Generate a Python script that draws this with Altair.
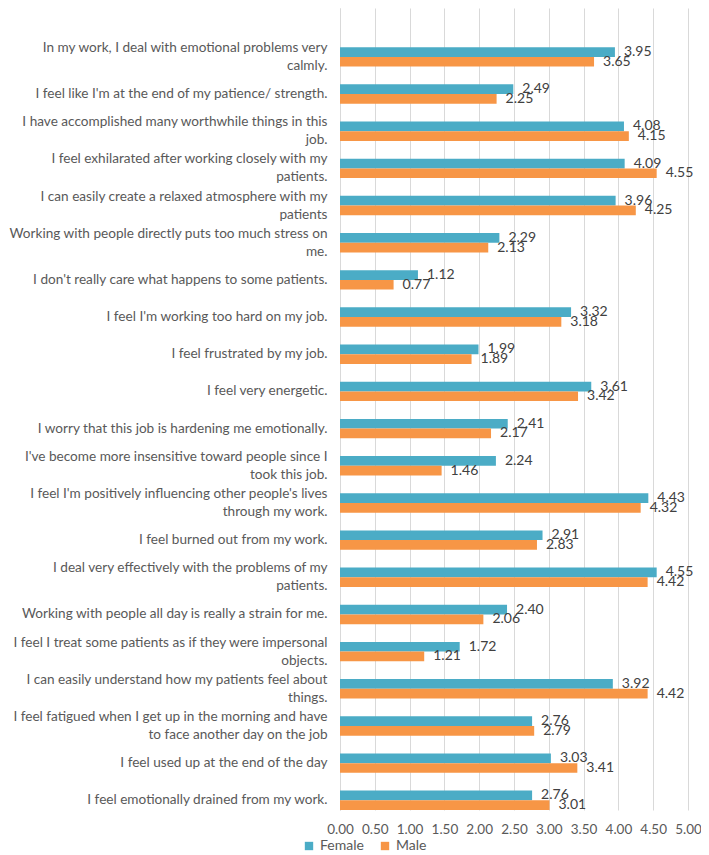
import altair as alt
import pandas as pd

categories = [
    "In my work, I deal with emotional problems very\ncalmly.",
    "I feel like I'm at the end of my patience/ strength.",
    "I have accomplished many worthwhile things in this\njob.",
    "I feel exhilarated after working closely with my\npatients.",
    "I can easily create a relaxed atmosphere with my\npatients",
    "Working with people directly puts too much stress on\nme.",
    "I don't really care what happens to some patients.",
    "I feel I'm working too hard on my job.",
    "I feel frustrated by my job.",
    "I feel very energetic.",
    "I worry that this job is hardening me emotionally.",
    "I've become more insensitive toward people since I\ntook this job.",
    "I feel I'm positively influencing other people's lives\nthrough my work.",
    "I feel burned out from my work.",
    "I deal very effectively with the problems of my\npatients.",
    "Working with people all day is really a strain for me.",
    "I feel I treat some patients as if they were impersonal\nobjects.",
    "I can easily understand how my patients feel about\nthings.",
    "I feel fatigued when I get up in the morning and have\nto face another day on the job",
    "I feel used up at the end of the day",
    "I feel emotionally drained from my work.",
]
female = [3.95, 2.49, 4.08, 4.09, 3.96, 2.29, 1.12, 3.32, 1.99, 3.61, 2.41,
          2.24, 4.43, 2.91, 4.55, 2.40, 1.72, 3.92, 2.76, 3.03, 2.76]
male = [3.65, 2.25, 4.15, 4.55, 4.25, 2.13, 0.77, 3.18, 1.89, 3.42, 2.17,
        1.46, 4.32, 2.83, 4.42, 2.06, 1.21, 4.42, 2.79, 3.41, 3.01]
series = ["Female", "Male"]
colors = ["#4BACC6", "#F79646"]
x_ticks = [0, 0.5, 1, 1.5, 2, 2.5, 3, 3.5, 4, 4.5, 5]

rows = []
for c, f, m in zip(categories, female, male):
    rows.append({"category": c, "gender": "Female", "value": f})
    rows.append({"category": c, "gender": "Male", "value": m})
df = pd.DataFrame(rows)

FONT = "Lato"
GRAY = "#595959"

y = alt.Y(
    "category:N", sort=categories, title=None,
    scale=alt.Scale(paddingInner=0.478, paddingOuter=0.527, align=1),
    axis=alt.Axis(
        labelExpr="split(datum.label, '\\n')", labelAlign="right",
        labelBaseline="middle", labelLineHeight=18, labelFontSize=13.6,
        labelOffset={"condition": {"test": "indexof(datum.value, '\\n') >= 0",
                                   "value": -9}, "value": 0},
        labelFont=FONT, labelColor=GRAY, labelPadding=13, labelLimit=340,
        ticks=False, domain=True, domainColor="#d9d9d9", grid=False,
    ),
)
yoff = alt.YOffset("gender:N", sort=series,
                   scale=alt.Scale(paddingInner=0, paddingOuter=0))
x = alt.X(
    "value:Q", scale=alt.Scale(domain=[0, 5], nice=False), title=None,
    axis=alt.Axis(
        values=x_ticks, format=".2f", labelFont=FONT, labelFontSize=13.5,
        labelColor=GRAY, labelPadding=12, ticks=False, domain=False,
        labelFlush=False, labelOverlap=False,
        grid=True, gridColor="#d9d9d9",
    ),
)
color = alt.Color(
    "gender:N", sort=series,
    scale=alt.Scale(domain=series, range=colors),
    legend=alt.Legend(
        title=None, orient="none", legendX=-38, legendY=831,
        direction="horizontal", symbolType="square", symbolSize=70,
        labelFont=FONT, labelFontSize=14, labelColor=GRAY,
        columnPadding=14, labelOffset=4, padding=0, symbolStrokeWidth=0,
    ),
)

bars = alt.Chart(df).mark_bar().encode(x=x, y=y, yOffset=yoff, color=color)
labels = alt.Chart(df).mark_text(
    align="left", baseline="middle", dx=9, font=FONT, fontSize=14,
    color="#404040",
).encode(
    x=x,
    y=y,
    yOffset=yoff,
    text=alt.Text("value:Q", format=".2f"),
)

chart = (bars + labels).properties(
    width=348, height=802,
    padding={"left": 332, "top": 0, "right": 13, "bottom": 43},
    autosize=alt.AutoSizeParams(type="none"),
).configure_view(stroke=None)

chart.save("out.html", embed_options={"renderer": "svg", "actions": False})
